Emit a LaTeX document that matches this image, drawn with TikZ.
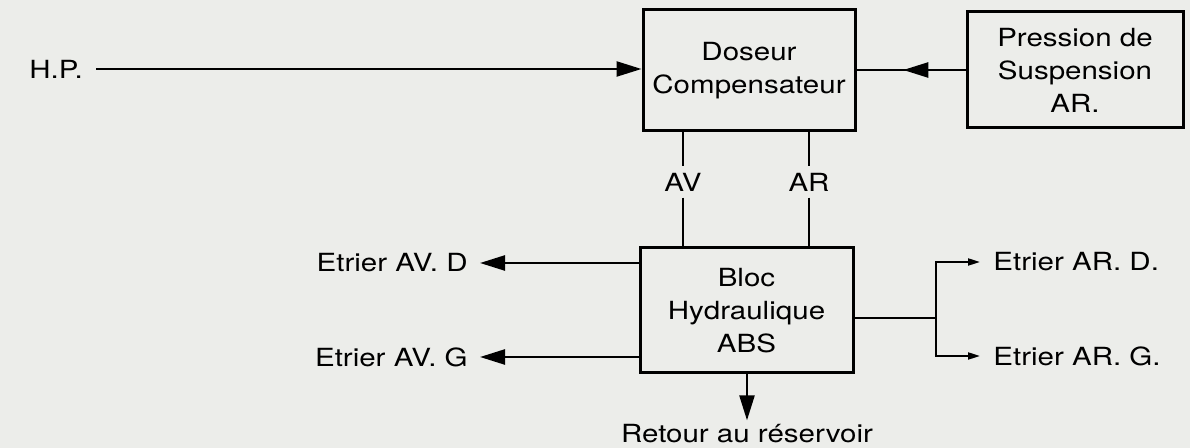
\documentclass[tikz,border=0pt]{standalone}
\usepackage{fontspec}
\setmainfont{TeX Gyre Heros}[FakeStretch=1.18]
\usetikzlibrary{arrows.meta,decorations.markings}
\definecolor{papier}{RGB}{236,237,234}

\begin{document}
\begin{tikzpicture}[x=0.5pt, y=-0.5pt,
    boite/.style={draw, line width=1.5pt, align=center, inner sep=0pt,
                  font=\fontsize{12.5}{16.5}\selectfont},
    lbl/.style={inner sep=0pt, font=\fontsize{12.5}{16.5}\selectfont},
    trait/.style={line width=1.2pt},
    fleche/.style={line width=1.2pt, -{Triangle[length=12.5pt,width=7.5pt]}},
    petite/.style={line width=1pt, -{Triangle[length=6pt,width=3.5pt]}}]

    \useasboundingbox (0,0) rectangle (1190,448);
    \fill[papier] (0,0) rectangle (1190,448);

    % Blocs
    \node[boite, minimum width=106pt, minimum height=60.5pt] (doseur) at (749,70.5)
        {Doseur\\Compensateur};
    \node[boite, minimum width=108pt, minimum height=58pt] (pression) at (1075,70)
        {Pression de\\Suspension\\AR.};
    \node[boite, minimum width=106.5pt, minimum height=62.5pt] (hydro) at (746.5,310.5)
        {Bloc\\Hydraulique\\ABS};

    % Etiquettes
    \node[lbl, anchor=west] (hp) at (29,69) {H.P.};
    \node[lbl, inner ysep=3pt] (av) at (683,182) {AV};
    \node[lbl, inner ysep=3pt] (ar) at (809,182) {AR};
    \node[lbl, anchor=east] (avd) at (468,263) {Etrier AV. D};
    \node[lbl, anchor=east] (avg) at (468,357) {Etrier AV. G};
    \node[lbl, anchor=west] (ard) at (993,262) {Etrier AR. D.};
    \node[lbl, anchor=west] (arg) at (993,356) {Etrier AR. G.};
    \node[lbl, anchor=base] (retour) at (747,443) {Retour au réservoir};
    \coordinate (noeud) at (936,318);

    % Liaisons
    \draw[fleche, shorten <=6.5pt] (hp.east) -- (hp.east -| doseur.west);
    \draw[trait, postaction={decorate, decoration={markings,
            mark=at position 0.571 with {\arrow{Triangle[length=12.5pt,width=7.5pt]}}}}]
        (pression.west) -- (pression.west -| doseur.east);
    \draw[trait] (doseur.south -| av) -- (av.north);
    \draw[trait] (av.south) -- (hydro.north -| av);
    \draw[trait] (doseur.south -| ar) -- (ar.north);
    \draw[trait] (ar.south) -- (hydro.north -| ar);
    \draw[fleche, shorten >=6pt] (hydro.west |- avd) -- (avd.east);
    \draw[fleche, shorten >=6pt] (hydro.west |- avg) -- (avg.east);
    \draw[fleche, shorten >=2pt] (hydro.south -| retour) -- (retour.north);
    \draw[trait] (hydro.east |- noeud) -- (noeud);
    \draw[petite, shorten >=6.5pt] (noeud) |- (ard.west);
    \draw[petite, shorten >=6.5pt] (noeud) |- (arg.west);
\end{tikzpicture}
\end{document}
